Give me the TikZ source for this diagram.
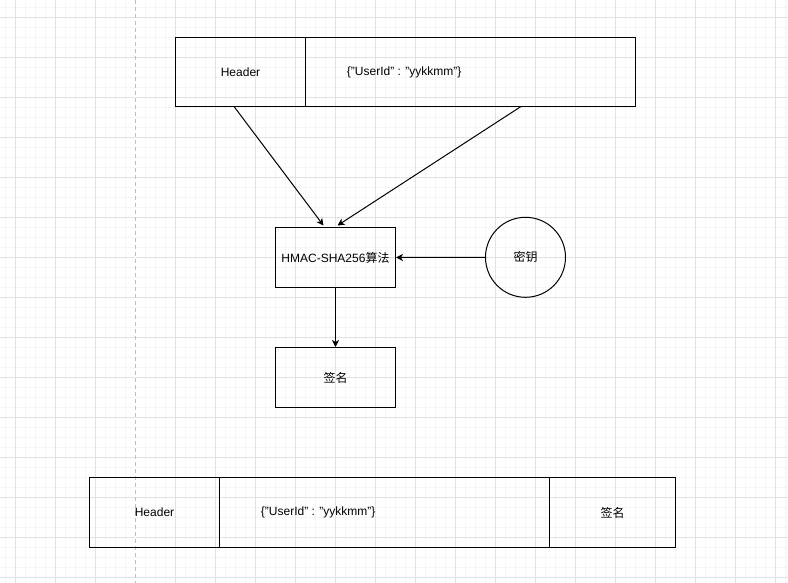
\documentclass[tikz,border=0pt]{standalone}
\usepackage{fontspec}
\setmainfont{Liberation Sans}
\newfontfamily\cjk{Noto Sans CJK SC}
\usetikzlibrary{arrows.meta, calc}

\definecolor{gridminor}{RGB}{245,245,245}
\definecolor{gridmajor}{RGB}{226,226,226}
\definecolor{pageline}{RGB}{190,190,190}

\begin{document}
\begin{tikzpicture}[x=1pt, y=-1pt,
    cell/.style={draw, line width=1pt, inner sep=0pt, minimum height=70,
        font=\fontsize{12}{14}\selectfont},
    celltext/.style={inner sep=0pt, minimum width=198, minimum height=20,
        font=\fontsize{12}{14}\selectfont},
    roundkey/.style={draw, circle, line width=1pt, inner sep=0pt, minimum size=80,
        font=\fontsize{12}{14}\selectfont},
    arr/.style={line width=1pt, -{Stealth[length=7pt, width=7pt, inset=2pt]}}
    ]
        % Canvas and grid
        \useasboundingbox (0,0) rectangle (788,583);
        \fill[white] (0,0) rectangle (788,583);
        \foreach \i in {0,...,78} \draw[gridminor, line width=1pt] (5.7+10*\i,0) -- ++(0,583);
        \foreach \i in {0,...,57} \draw[gridminor, line width=1pt] (0,7.7+10*\i) -- ++(788,0);
        \foreach \i in {0,...,19} \draw[gridmajor, line width=1pt] (15.7+40*\i,0) -- ++(0,583);
        \foreach \i in {0,...,14} \draw[gridmajor, line width=1pt] (0,17.7+40*\i) -- ++(788,0);
        \draw[white, line width=1pt] (135.7,0) -- (135.7,583);
        \draw[pageline, line width=1pt, dash pattern=on 4pt off 3pt] (135.7,0) -- (135.7,583);

        % Token before signing
        \node[cell, minimum width=130, minimum height=69] (tophdr) at (240.5,72) {Header};
        \node[cell, minimum width=330, minimum height=69] (toppay) at (470.5,72) {};
        \node[celltext, anchor=west] (toptext) at (toppay.west) {\{"UserId" : "yykkmm"\}};

        % Signing step
        \node[cell, minimum width=120, minimum height=60] (hmac) at (335.5,257.5) {HMAC-SHA256{\cjk 算法}};
        \node[roundkey] (key) at (525.5,257.3) {\cjk 密钥};
        \node[cell, minimum width=120, minimum height=60] (sig) at (335.5,377.5) {\cjk 签名};

        \coordinate (hdrout) at (234,106.5);
        \coordinate (payout) at (521,106.5);
        \draw[arr] (hdrout) -- ($(hmac.north)+(-12,-1.5)$);
        \draw[arr] (payout) -- ($(hmac.north)+(2,-1.5)$);
        \draw[arr] (key.west) -- (hmac.east);
        \draw[arr] (hmac.south) -- (sig.north);

        % Signed token
        \node[cell, minimum width=130] (bothdr) at (154.5,512.5) {Header};
        \node[cell, minimum width=330] (botpay) at (384.5,512.5) {};
        \node[celltext, anchor=west] (bottext) at (botpay.west) {\{"UserId" : "yykkmm"\}};
        \node[cell, minimum width=126] (botsig) at (612.5,512.5) {\cjk 签名};
\end{tikzpicture}
\end{document}
